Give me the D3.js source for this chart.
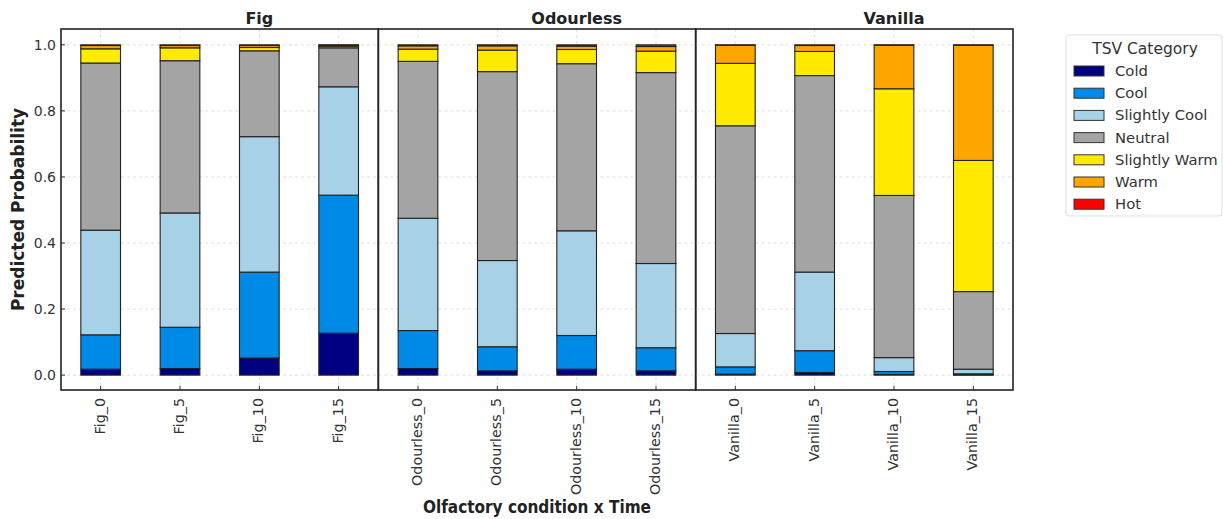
<!DOCTYPE html>
<html>
<head>
<meta charset="utf-8">
<script src="https://cdn.jsdelivr.net/npm/d3@7"></script>
<style>
  body { margin: 0; background: #fff; }
  text { font-family: "DejaVu Sans", sans-serif; }
</style>
</head>
<body>
<svg id="chart" width="1223" height="519"></svg>
<script>
// conditions and time points
const conditions = ["Fig", "Odourless", "Vanilla"];
const times = [0, 5, 10, 15];
const categories = ["Cold", "Cool", "Slightly Cool", "Neutral", "Slightly Warm", "Warm", "Hot"];
const colors = ["#000080", "#008ae8", "#a6d1e6", "#a4a4a4", "#ffea00", "#ffa500", "#ff0000"];
const yTicks = [0.0, 0.2, 0.4, 0.6, 0.8, 1.0];

// predicted probabilities, one row per bar, columns follow categories
const figProbs = [
  [0.018, 0.104, 0.317, 0.506, 0.043, 0.010, 0.002],
  [0.020, 0.125, 0.346, 0.461, 0.039, 0.007, 0.002],
  [0.052, 0.260, 0.410, 0.260, 0.010, 0.006, 0.002],
  [0.127, 0.418, 0.328, 0.118, 0.005, 0.003, 0.001]
];
const odourlessProbs = [
  [0.020, 0.115, 0.340, 0.475, 0.037, 0.010, 0.003],
  [0.013, 0.073, 0.261, 0.572, 0.065, 0.013, 0.003],
  [0.018, 0.102, 0.317, 0.506, 0.043, 0.010, 0.004],
  [0.013, 0.070, 0.255, 0.578, 0.065, 0.014, 0.005]
];
const vanillaProbs = [
  [0.003, 0.022, 0.101, 0.629, 0.189, 0.055, 0.001],
  [0.008, 0.066, 0.238, 0.595, 0.073, 0.018, 0.002],
  [0.002, 0.009, 0.042, 0.491, 0.323, 0.132, 0.001],
  [0.001, 0.003, 0.014, 0.235, 0.397, 0.349, 0.001]
];
const probs = { Fig: figProbs, Odourless: odourlessProbs, Vanilla: vanillaProbs };

const svg = d3.select("#chart");
const plotLeft = 61, plotRight = 1013, plotTop = 29, plotBottom = 390;

// panels side by side
let panelX = d3.scaleBand().domain(conditions).range([plotLeft, plotRight]);
let y = d3.scaleLinear().domain([-0.045, 1.048]).range([plotBottom, plotTop]);
let color = d3.scaleOrdinal().domain(categories).range(colors);

let stack = d3.stack().keys(d3.range(categories.length)).value((d, k) => d[k]);

conditions.forEach(cond => {
    let x0 = panelX(cond), w = panelX.bandwidth();
    let x = d3.scaleBand().domain(times).range([x0, x0 + w]).paddingInner(0).paddingOuter(0);
    let g = svg.append("g");

    // grid
    g.selectAll(".hgrid").data(yTicks).enter().append("line")
        .attr("x1", x0).attr("x2", x0 + w)
        .attr("y1", d => y(d)).attr("y2", d => y(d))
        .attr("stroke", "#d4d4d4").attr("stroke-dasharray", "3,3").attr("stroke-width", 0.8);
    g.selectAll(".vgrid").data(times).enter().append("line")
        .attr("x1", d => x(d) + x.bandwidth() / 2).attr("x2", d => x(d) + x.bandwidth() / 2)
        .attr("y1", plotTop).attr("y2", plotBottom)
        .attr("stroke", "#d4d4d4").attr("stroke-dasharray", "3,3").attr("stroke-width", 0.8);

    // stacked bars
    let series = stack(probs[cond]);
    let barW = x.bandwidth() * 0.5;
    g.selectAll(".layer").data(series).enter().append("g")
        .attr("fill", d => colors[d.key])
        .selectAll("rect").data(d => d.map((v, i) => ({v: v, t: times[i]}))).enter().append("rect")
        .attr("x", d => x(d.t) + (x.bandwidth() - barW) / 2)
        .attr("width", barW)
        .attr("y", d => y(d.v[1]))
        .attr("height", d => y(d.v[0]) - y(d.v[1]))
        .attr("stroke", "#222").attr("stroke-width", 1.1);

    // inward ticks on the x axis
    g.selectAll(".xtick").data(times).enter().append("line")
        .attr("x1", d => x(d) + x.bandwidth() / 2).attr("x2", d => x(d) + x.bandwidth() / 2)
        .attr("y1", plotBottom).attr("y2", plotBottom - 4)
        .attr("stroke", "#333");

    // rotated tick labels
    g.selectAll(".xlab").data(times).enter().append("text")
        .attr("transform", d => "translate(" + (x(d) + x.bandwidth() / 2 + 4) + "," + (plotBottom + 8) + ") rotate(-90)")
        .attr("text-anchor", "end")
        .attr("font-size", 14.3).attr("fill", "#333")
        .text(d => cond + "_" + d);

    // panel frame
    g.append("rect").attr("x", x0).attr("y", plotTop).attr("width", w).attr("height", plotBottom - plotTop)
        .attr("fill", "none").attr("stroke", "#222").attr("stroke-width", 1.6);

    // panel title
    g.append("text")
        .attr("x", x0 + w * 0.625).attr("y", 24)
        .attr("text-anchor", "middle").attr("font-size", 16).attr("font-weight", "bold").attr("fill", "#222")
        .text(cond);
});

// y axis labels
svg.selectAll(".ylab").data(yTicks).enter().append("text")
    .attr("x", 56).attr("y", d => y(d) + 5)
    .attr("text-anchor", "end").attr("font-size", 14).attr("fill", "#333")
    .text(d => d.toFixed(1));
svg.selectAll(".ytick").data(yTicks).enter().append("line")
    .attr("x1", plotLeft).attr("x2", plotLeft + 4)
    .attr("y1", d => y(d)).attr("y2", d => y(d))
    .attr("stroke", "#333");

// axis titles
svg.append("text")
    .attr("transform", "translate(24," + ((plotTop + plotBottom) / 2) + ") rotate(-90)")
    .attr("text-anchor", "middle").attr("font-size", 17).attr("font-weight", "bold").attr("fill", "#222")
    .text("Predicted Probability");
svg.append("text")
    .attr("x", (plotLeft + plotRight) / 2).attr("y", 513)
    .attr("text-anchor", "middle").attr("font-size", 17).attr("font-weight", "bold").attr("fill", "#222")
    .attr("font-stretch", "condensed").style("font-family", "'DejaVu Sans Condensed', 'DejaVu Sans', sans-serif")
    .text("Olfactory condition x Time");

// legend
let legend = svg.append("g").attr("transform", "translate(1066,35)");
legend.append("rect").attr("width", 156).attr("height", 181).attr("rx", 3)
    .attr("fill", "#fff").attr("stroke", "#ddd");
legend.append("text").attr("x", 79).attr("y", 19).attr("text-anchor", "middle")
    .attr("font-size", 15.5).attr("fill", "#333").text("TSV Category");
let items = legend.selectAll(".item").data(categories).enter().append("g")
    .attr("transform", (d, i) => "translate(0," + (36 + i * 22.2) + ")");
items.append("rect").attr("x", 8).attr("y", -5).attr("width", 30).attr("height", 10)
    .attr("fill", d => color(d)).attr("stroke", "#333").attr("stroke-width", 1);
items.append("text").attr("x", 49).attr("y", 5).attr("font-size", 14.8).attr("fill", "#333")
    .text(d => d);
</script>
</body>
</html>
